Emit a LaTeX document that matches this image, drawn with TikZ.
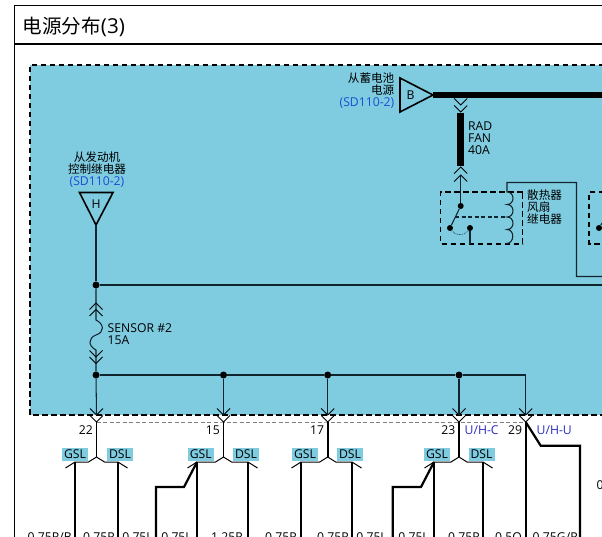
\documentclass[tikz,border=0pt]{standalone}
\usepackage{fontspec}
\setmainfont{Open Sans}
\newfontfamily\cjk[Scale=0.95]{Noto Sans CJK SC}
\usetikzlibrary{calc}
\definecolor{panelblue}{HTML}{7FCBE0}
\definecolor{refblue}{HTML}{1A4FD6}
\definecolor{pinblue}{HTML}{2A2AC0}
\definecolor{wirecol}{HTML}{10252E}
\tikzset{
    wire/.style={draw=wirecol, line width=1.05pt},
    lead/.style={draw=black, line width=1.8pt},
    heavy/.style={draw=black, line width=6.6pt},
    pinv/.style={draw=black, line width=0.9pt, fill=none},
    relaybox/.style={draw=black, line width=1.5pt, dash pattern=on 5.5pt off 3.5pt},
    lbl/.style={inner sep=0pt, font=\fontsize{12.2}{12}\selectfont, align=left, text=black},
    tag/.style={fill=panelblue, inner sep=0pt, minimum width=26pt, minimum height=12.5pt, font=\fontsize{12.2}{12}\selectfont},
    gauge/.style={inner sep=0pt, anchor=east, font=\fontsize{12.2}{12}\selectfont},
    dot/.style={circle, fill=black, inner sep=0pt, minimum size=7pt}
}
% chevrons pointing down or up, tip at given point
\newcommand{\vdown}[2]{\draw[pinv] ( #1 -6.5 , #2 -6.5 ) -- ( #1 , #2 ) -- ( #1 +6.5 , #2 -6.5 );}
\newcommand{\vup}[2]{\draw[pinv] ( #1 -6.5 , #2 +6.5 ) -- ( #1 , #2 ) -- ( #1 +6.5 , #2 +6.5 );}
% pin below the panel: name, x, number
\newcommand{\pinnode}[3]{
    \coordinate (#1top) at ( #2 , 375 );
    \coordinate (#1mid) at ( #2 , 422 );
    \coordinate (#1fork) at ( #2 , 457 );
    \vdown{#2}{415}
    \vdown{#2}{422}
    \node[lbl, anchor=east] (#1num) at ( #2 -3.5 , 430 ) {#3};
}
% fork with GSL and DSL leads: name, x, left x, right x, left tag x, right tag x
\newcommand{\forknode}[6]{
    \node[tag] (#1gsl) at ( #5 , 454.3 ) {GSL};
    \node[tag] (#1dsl) at ( #6 , 454.3 ) {DSL};
    \coordinate (#1gl) at ( #3 , 462 );
    \coordinate (#1dl) at ( #4 , 462 );
    \coordinate (#1ge) at ( #3 , 537 );
    \coordinate (#1de) at ( #4 , 537 );
    \draw[lead] (#1mid) -- (#1fork);
    \draw[draw=black, line width=1pt] ( #3 -9.5 , 468 ) -- (#1gl) -- ( #2 -8 , 462 ) -- (#1fork) -- ( #2 +8 , 462 ) -- (#1dl) -- ( #4 +9.5 , 468 );
    \draw[lead] (#1gl) -- (#1ge);
    \draw[lead] (#1dl) -- (#1de);
}
% extra lead going off from the GSL side
\newcommand{\sidelead}[3]{
    \coordinate (#1a) at ( #2 -13 , 487 );
    \coordinate (#1b) at ( #3 , 487 );
    \coordinate (#1c) at ( #3 , 537 );
    \draw[lead, line width=2.2pt] ( #2 , 462 ) -- (#1a) -- (#1b) -- (#1c);
}

\begin{document}
\begin{tikzpicture}[x=1pt, y=-1pt]
    \useasboundingbox (0,0) rectangle (602,537);
    % frame and title
    \draw[black, line width=1pt] (14.5,537) -- (14.5,6) -- (602,6);
    \draw[black, line width=2.6pt] (14.5,44) -- (602,44);
    \node[inner sep=0pt, anchor=west, font=\fontsize{20.6}{22}\selectfont] (title) at (22.5,27) {{\cjk 电源分布}(3)};
    % blue panel
    \fill[panelblue] (30,65) rectangle (604,415);
    \draw[black, line width=1.6pt, dash pattern=on 5.5pt off 3.5pt] (604,65) -- (30,65) -- (30,415) -- (604,415);
    % battery input
    \node[lbl, anchor=east, align=right] (battlbl) at (394.5,90.5) {{\cjk 从蓄电池}\\{\cjk 电源}\\\textcolor{refblue}{(SD110-2)}};
    \coordinate (battl) at (400,78);
    \coordinate (battr) at (433,95);
    \coordinate (battb) at (400,112);
    \draw[black, line width=1.6pt] (battl) -- (battr) -- (battb) -- cycle;
    \node[lbl] (batt) at (410.5,95) {B};
    \coordinate (busend) at (604,95);
    \draw[heavy] (battr) -- (busend);
    % rad fan fuse
    \coordinate (radtop) at (460.7,113);
    \coordinate (radbot) at (460.7,166);
    \vdown{460.7}{105}
    \vdown{460.7}{112}
    \draw[heavy] (radtop) -- (radbot);
    \vup{460.7}{167}
    \vup{460.7}{175}
    \node[lbl, anchor=north west] (radlbl) at (468,122) {RAD\\FAN\\40A};
    % fan relay
    \node[dot, minimum size=6pt] (swtop) at (460.7,206) {};
    \node[dot, minimum size=6pt] (swl) at (450,228) {};
    \node[dot, minimum size=6pt] (swr) at (470,228) {};
    \coordinate (relaybot) at (470,244);
    \coordinate (swmid) at (455,217);
    \coordinate (coilmid) at (506,217);
    \coordinate (coiltop) at (507,182.5);
    \coordinate (coilbot) at (506.5,243.5);
    \coordinate (fanturn) at (576.5,182.5);
    \coordinate (fanlow) at (576.5,276.5);
    \coordinate (fanend) at (604,276.5);
    \draw[relaybox] (522.7,192) -- (440.7,192) -- (440.7,244) -- (522.7,244) -- cycle;
    \draw[wire] (460.7,175) -- (swtop);
    \draw[wire] (swtop) -- (swl);
    \draw[wire] (swr) -- (relaybot);
    \draw[wire, dash pattern=on 4pt off 2.5pt] (swmid) -- (coilmid);
    \draw[wire, line width=0.7pt, densely dotted] (swl) .. controls (455,236) and (465,236) .. (swr);
    \draw[wire] (fanend) -- (fanlow) -- (fanturn) -- (coiltop) -- (507,192)
        .. controls +(8,0) and +(8,0) .. ++(0,12.5)
        .. controls +(8,0) and +(8,0) .. ++(0,12.5)
        .. controls +(8,0) and +(8,0) .. ++(0,12.5)
        .. controls +(8,0) and +(8,0) .. (coilbot) -- (506.5,244);
    \node[lbl, anchor=north west] (relaylbl) at (527,189.5) {\cjk 散热器\\\cjk 风扇\\\cjk 继电器};
    % next relay, cut off by the edge
    \node[dot, minimum size=6pt] (nextsw) at (599,228) {};
    \coordinate (nexttop) at (604,220);
    \draw[relaybox] (604,192) -- (589,192) -- (589,244) -- (604,244);
    \draw[wire] (nextsw) -- (nexttop);
    % engine relay input
    \node[lbl, anchor=south, align=center] (hlbl) at (97,187.5) {{\cjk 从发动机}\\{\cjk 控制继电器}\\\textcolor{refblue}{(SD110-2)}};
    \coordinate (hl) at (79.5,192.5);
    \coordinate (hr) at (113,192.5);
    \coordinate (ht) at (96,225);
    \draw[black, line width=1.6pt] (hl) -- (hr) -- (ht) -- cycle;
    \node[lbl] (h) at (96,204) {H};
    % main wire with sensor fuse
    \node[dot] (upper) at (96,285) {};
    \node[dot] (lower) at (96,375) {};
    \coordinate (upperend) at (604,285);
    \coordinate (fusetop) at (96,320);
    \coordinate (fusebot) at (96,350);
    \draw[wire] (ht) -- (upper);
    \draw[wire] (upper) -- (upperend);
    \draw[wire] (upper) -- (96,320)
        .. controls (104,324) and (105,332) .. (96,335)
        .. controls (88,338) and (88,346) .. (fusebot) -- (lower);
    \vup{96}{303}
    \vup{96}{309.5}
    \vdown{96}{357}
    \vdown{96}{363.5}
    \node[lbl, anchor=north west] (fuselbl) at (107.5,323) {SENSOR \#2\\15A};
    % bus and pins
    \node[dot] (jb) at (223.5,375) {};
    \node[dot] (jc) at (327.7,375) {};
    \node[dot] (jd) at (459,375) {};
    \coordinate (buscorner) at (525.7,375);
    \pinnode{pa}{96.5}{22}
    \pinnode{pb}{223.5}{15}
    \pinnode{pc}{327.7}{17}
    \pinnode{pd}{459}{23}
    \pinnode{pe}{525.7}{29}
    \draw[wire] (lower) -- (jb);
    \draw[wire] (jb) -- (jc);
    \draw[wire] (jc) -- (jd);
    \draw[wire] (jd) -- (buscorner) -- (525.7,415);
    \draw[wire] (lower) -- (96.5,415);
    \draw[wire] (jb) -- (223.5,415);
    \draw[wire] (jc) -- (327.7,415);
    \draw[wire] (jd) -- (459,415);
    \draw[gray, line width=0.8pt, dash pattern=on 4pt off 2.5pt] (pamid) -- (pbmid) -- (pcmid) -- (pdmid) -- (pemid);
    % pin tags
    \node[lbl, text=pinblue, anchor=west] (uhc) at (464.5,430.5) {U/H-C};
    \node[lbl, text=pinblue, anchor=west] (uhu) at (536.5,430.5) {U/H-U};
    % forks
    \forknode{pa}{96.5}{75}{118}{75}{120}
    \forknode{pb}{223.5}{197}{248}{200.8}{246}
    \forknode{pc}{327.7}{301}{352}{305}{350}
    \forknode{pd}{459}{434}{483}{437}{481.5}
    \sidelead{sb}{197}{156}
    \sidelead{sd}{434}{392.7}
    % last pin, no fork
    \coordinate (peend) at (525.7,537);
    \coordinate (pebend) at (540.7,445.7);
    \coordinate (pecorner) at (580,445.7);
    \coordinate (pelow) at (580,537);
    \draw[lead] (pemid) -- (peend);
    \draw[lead, line width=2.2pt] (pemid) -- (pebend) -- (pecorner) -- (pelow);
    % wire gauges, cut off at the bottom
    \node[gauge] (ga) at (72,537) {0.75R/B};
    \node[gauge] (gb) at (115,537) {0.75R};
    \node[gauge] (gc) at (153,537) {0.75L};
    \node[gauge] (gd) at (192,537) {0.75L};
    \node[gauge] (ge) at (243,537) {1.25R};
    \node[gauge] (gf) at (297,537) {0.75R};
    \node[gauge] (gg) at (349,537) {0.75R};
    \node[gauge] (gh) at (387,537) {0.75L};
    \node[gauge] (gi) at (429,537) {0.75L};
    \node[gauge] (gj) at (480,537) {0.75R};
    \node[gauge] (gk) at (522,537) {0.5O};
    \node[gauge] (gl) at (578,537) {0.75G/R};
    \node[gauge, anchor=west] (gm) at (596.5,485) {0.75R};
\end{tikzpicture}
\end{document}
